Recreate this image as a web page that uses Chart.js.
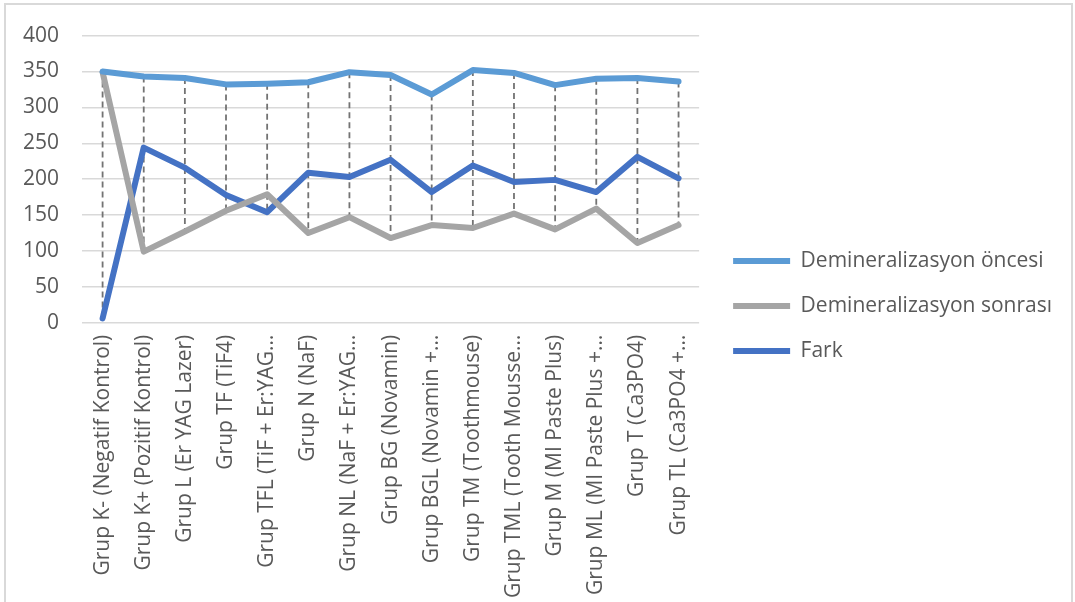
<!DOCTYPE html>
<html>
<head>
<meta charset="utf-8">
<script src="https://cdn.jsdelivr.net/npm/chart.js@4"></script>
<style>
  html, body { margin: 0; padding: 0; background: #fff; }
  #wrap { position: relative; width: 1075px; height: 602px; overflow: hidden; }
  #frame {
    position: absolute; left: 4px; top: 3px; width: 1069px; height: 620px;
    border: 2px solid #d9d9d9; box-sizing: border-box; pointer-events: none;
  }
</style>
</head>
<body>
<div id="wrap">
  <canvas id="my-chart" width="1075" height="602"></canvas>
  <div id="frame"></div>
</div>
<script>
'use strict';

// ***************** DATA ***************** //

let groupLabels = [
  'Grup K- (Negatif Kontrol)',
  'Grup K+ (Pozitif Kontrol)',
  'Grup L (Er YAG Lazer)',
  'Grup TF (TiF4)',
  'Grup TFL (TiF + Er:YAG…',
  'Grup N (NaF)',
  'Grup NL (NaF + Er:YAG…',
  'Grup BG (Novamin)',
  'Grup BGL (Novamin +…',
  'Grup TM (Toothmouse)',
  'Grup TML (Tooth Mousse…',
  'Grup M (MI Paste Plus)',
  'Grup ML (MI Paste Plus +…',
  'Grup T (Ca3PO4)',
  'Grup TL (Ca3PO4 +…'
];

let onceValues = [350, 343, 341, 332, 333, 335, 349, 345, 318, 352, 348, 331, 340, 341, 336];
let sonraValues = [349, 99, 127, 156, 179, 125, 147, 118, 136, 132, 152, 130, 159, 111, 136];
let farkValues = [6, 244, 216, 178, 154, 209, 203, 227, 182, 219, 196, 199, 182, 231, 201];

let yTicks = [0, 50, 100, 150, 200, 250, 300, 350, 400];

let fontFamily = '"Open Sans", sans-serif';
let textColor = '#595959';

// ***************** PLUGINS ***************** //

// dashed high-low lines, from the highest to the lowest series value of each group
let highLowLines = {
  id: 'highLowLines',
  beforeDatasetsDraw(chart) {
    let ctx = chart.ctx;
    let xScale = chart.scales.x;
    let yScale = chart.scales.y;
    ctx.save();
    ctx.strokeStyle = '#737373';
    ctx.lineWidth = 1.8;
    ctx.setLineDash([6, 4]);
    for (let i = 0; i < groupLabels.length; i++) {
      let vals = chart.data.datasets.map(ds => ds.data[i]);
      let x = xScale.getPixelForValue(i);
      ctx.beginPath();
      ctx.moveTo(x, yScale.getPixelForValue(Math.max(...vals)));
      ctx.lineTo(x, yScale.getPixelForValue(Math.min(...vals)));
      ctx.stroke();
    }
    ctx.restore();
  }
};

// nudge the legend: a bit more room from the plot, a bit higher
let legendNudge = {
  id: 'legendNudge',
  afterLayout(chart) {
    if (chart.legend) {
      chart.legend.left += 10;
      chart.legend.right += 10;
      chart.legend.top -= 8;
      chart.legend.bottom -= 8;
    }
  }
};

// ***************** CHART ***************** //

let ctx = document.getElementById('my-chart').getContext('2d');

function makeSeries(label, data, color) {
  return {
    label: label,
    data: data,
    borderColor: color,
    backgroundColor: color,
    borderWidth: 6,
    borderCapStyle: 'round',
    borderJoinStyle: 'round',
    pointRadius: 0,
    pointHoverRadius: 0,
    tension: 0
  };
}

new Chart(ctx, {
  type: 'line',
  data: {
    labels: groupLabels,
    datasets: [
      makeSeries('Demineralizasyon öncesi', onceValues, '#5b9bd5'),
      makeSeries('Demineralizasyon sonrası', sonraValues, '#a5a5a5'),
      makeSeries('Fark', farkValues, '#4472c4')
    ]
  },
  options: {
    responsive: false,
    animation: false,
    layout: {
      padding: { left: 0, top: 26, right: 23, bottom: 0 }
    },
    scales: {
      x: {
        offset: true,
        grid: { display: false },
        border: { display: false },
        ticks: {
          autoSkip: false,
          minRotation: 90,
          maxRotation: 90,
          padding: 4,
          color: textColor,
          font: { family: fontFamily, size: 21 }
        }
      },
      y: {
        min: 0,
        max: 400,
        afterBuildTicks(axis) {
          axis.ticks = yTicks.map(v => ({ value: v }));
        },
        grid: { color: '#d9d9d9', lineWidth: 1.5, drawTicks: false },
        border: { display: false },
        ticks: {
          padding: 23,
          color: textColor,
          font: { family: fontFamily, size: 21 }
        }
      }
    },
    plugins: {
      tooltip: { enabled: false },
      legend: {
        position: 'right',
        align: 'center',
        maxWidth: 420,
        labels: {
          usePointStyle: true,
          pointStyle: 'line',
          pointStyleWidth: 57,
          padding: 24,
          color: textColor,
          font: { family: fontFamily, size: 21 }
        }
      }
    }
  },
  plugins: [highLowLines, legendNudge]
});
</script>
</body>
</html>
